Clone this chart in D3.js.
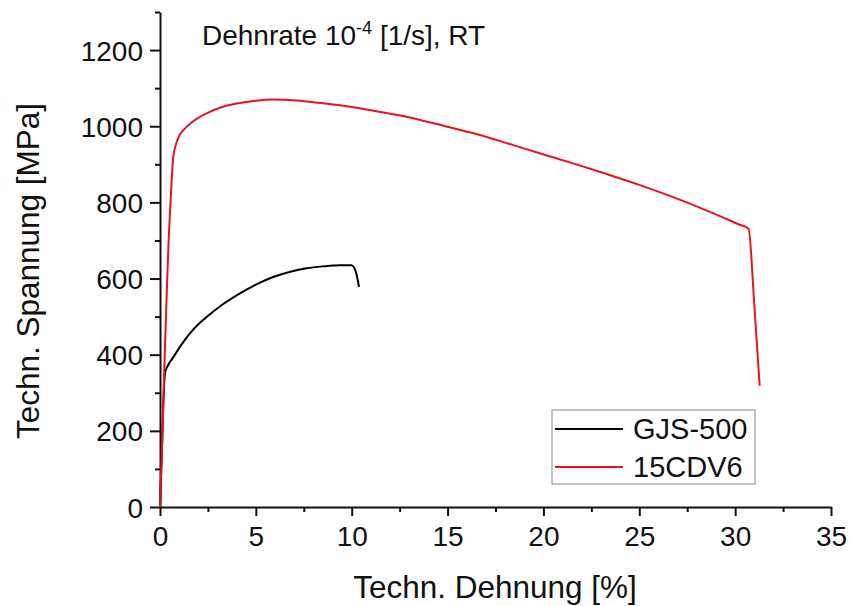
<!DOCTYPE html>
<html>
<head>
<meta charset="utf-8">
<script src="https://cdn.jsdelivr.net/npm/d3@7"></script>
<style>
  body { margin: 0; background: #fff; }
  text { font-family: "Liberation Sans", Arial, sans-serif; fill: #111; }
</style>
</head>
<body>
<div id="chart"></div>
<script>
// 15CDV6 (red)
var redStrain = [0, 0.1, 0.2, 0.26, 0.35, 0.45, 0.52, 0.6, 0.69, 0.85, 1.0, 1.21, 1.6, 2.0, 2.43, 3.2, 4.17, 5.0, 5.9, 7.0, 8.0, 9.38, 11.0, 12.85, 14.5, 16.3, 18.0, 19.8, 21.5, 23.26, 25.0, 26.7, 28.5, 30.2, 30.7, 31.0, 31.28];
var redStress = [0, 150, 320, 420, 560, 700, 772, 850, 918, 955, 975, 989, 1008, 1022, 1034, 1050, 1061, 1067, 1070, 1068, 1063, 1055, 1042, 1025, 1005, 982, 957, 929, 903, 875, 846, 815, 779, 742, 731, 530, 318];
// GJS-500 (black)
var blackStrain = [0, 0.1, 0.18, 0.26, 0.45, 0.69, 1.1, 1.56, 2.0, 2.43, 3.3, 4.17, 5.0, 5.9, 6.8, 7.64, 8.5, 9.4, 9.98, 10.2, 10.38];
var blackStress = [0, 150, 280, 352, 375, 393, 425, 456, 480, 499, 533, 561, 584, 604, 618, 627, 632, 635, 635, 620, 578];

var xTicks = [0, 5, 10, 15, 20, 25, 30, 35];
var yTicks = [0, 200, 400, 600, 800, 1000, 1200];
var seriesNames = ["GJS-500", "15CDV6"];
var seriesColors = ["#000000", "#e8141c"];

var width = 849, height = 606;
var svg = d3.select("#chart").append("svg").attr("width", width).attr("height", height);

var x = d3.scaleLinear().domain([0, 35]).range([160, 831]);
var y = d3.scaleLinear().domain([0, 1300]).range([507, 12]);

// minor ticks
var xMinor = d3.range(2.5, 35, 5);
var yMinor = d3.range(100, 1301, 200);

svg.append("g").attr("transform", "translate(0,507)")
  .call(d3.axisBottom(x).tickValues(xMinor).tickSize(5).tickSizeOuter(0).tickFormat(""))
  .call(function(g){ g.select(".domain").remove(); });
svg.append("g").attr("transform", "translate(160,0)")
  .call(d3.axisLeft(y).tickValues(yMinor).tickSize(5).tickSizeOuter(0).tickFormat(""))
  .call(function(g){ g.select(".domain").remove(); });

var xAxis = svg.append("g").attr("transform", "translate(0,507)")
  .call(d3.axisBottom(x).tickValues(xTicks).tickSize(9).tickSizeOuter(0).tickPadding(10).tickFormat(d3.format("d")));
var yAxis = svg.append("g").attr("transform", "translate(160,0)")
  .call(d3.axisLeft(y).tickValues(yTicks).tickSize(10).tickSizeOuter(0).tickPadding(7).tickFormat(d3.format("d")));

svg.selectAll(".tick line").attr("stroke", "#111").attr("stroke-width", 2);
svg.selectAll(".domain").attr("stroke", "#111").attr("stroke-width", 2);
svg.selectAll(".tick text").style("font-size", "28px").attr("fill", "#111");
xAxis.selectAll(".tick text").attr("dy", "0.71em");
yAxis.selectAll(".tick text").attr("dy", "0.36em");

// curves
var line = d3.line().curve(d3.curveMonotoneX)
  .x(function(d){ return x(d[0]); }).y(function(d){ return y(d[1]); });
var blackData = blackStrain.map(function(v, i){ return [v, blackStress[i]]; });
var redData = redStrain.map(function(v, i){ return [v, redStress[i]]; });

svg.append("path").datum(blackData).attr("d", line)
  .attr("fill", "none").attr("stroke", seriesColors[0]).attr("stroke-width", 2).attr("stroke-linejoin", "round");
svg.append("path").datum(redData).attr("d", line)
  .attr("fill", "none").attr("stroke", seriesColors[1]).attr("stroke-width", 2).attr("stroke-linejoin", "round");

// axis labels
svg.append("text").attr("x", 495).attr("y", 598).attr("text-anchor", "middle")
  .style("font-size", "31.5px").text("Techn. Dehnung [%]");
svg.append("text").attr("transform", "translate(39,271) rotate(-90)").attr("text-anchor", "middle")
  .style("font-size", "31.5px").text("Techn. Spannung [MPa]");

// title
var title = svg.append("text").attr("x", 202).attr("y", 45).style("font-size", "28px");
title.append("tspan").text("Dehnrate 10");
title.append("tspan").attr("dy", -11).style("font-size", "18px").text("-4");
title.append("tspan").attr("dy", 11).text(" [1/s], RT");

// legend
var legend = svg.append("g");
legend.append("rect").attr("x", 552).attr("y", 410).attr("width", 203).attr("height", 74)
  .attr("fill", "#fff").attr("stroke", "#888").attr("stroke-width", 1);
seriesNames.forEach(function(name, i){
  var cy = 429 + i * 38;
  legend.append("line").attr("x1", 555).attr("x2", 623).attr("y1", cy).attr("y2", cy)
    .attr("stroke", seriesColors[i]).attr("stroke-width", 2);
  legend.append("text").attr("x", 633).attr("y", cy + 10).style("font-size", "29px").text(name);
});
</script>
</body>
</html>
